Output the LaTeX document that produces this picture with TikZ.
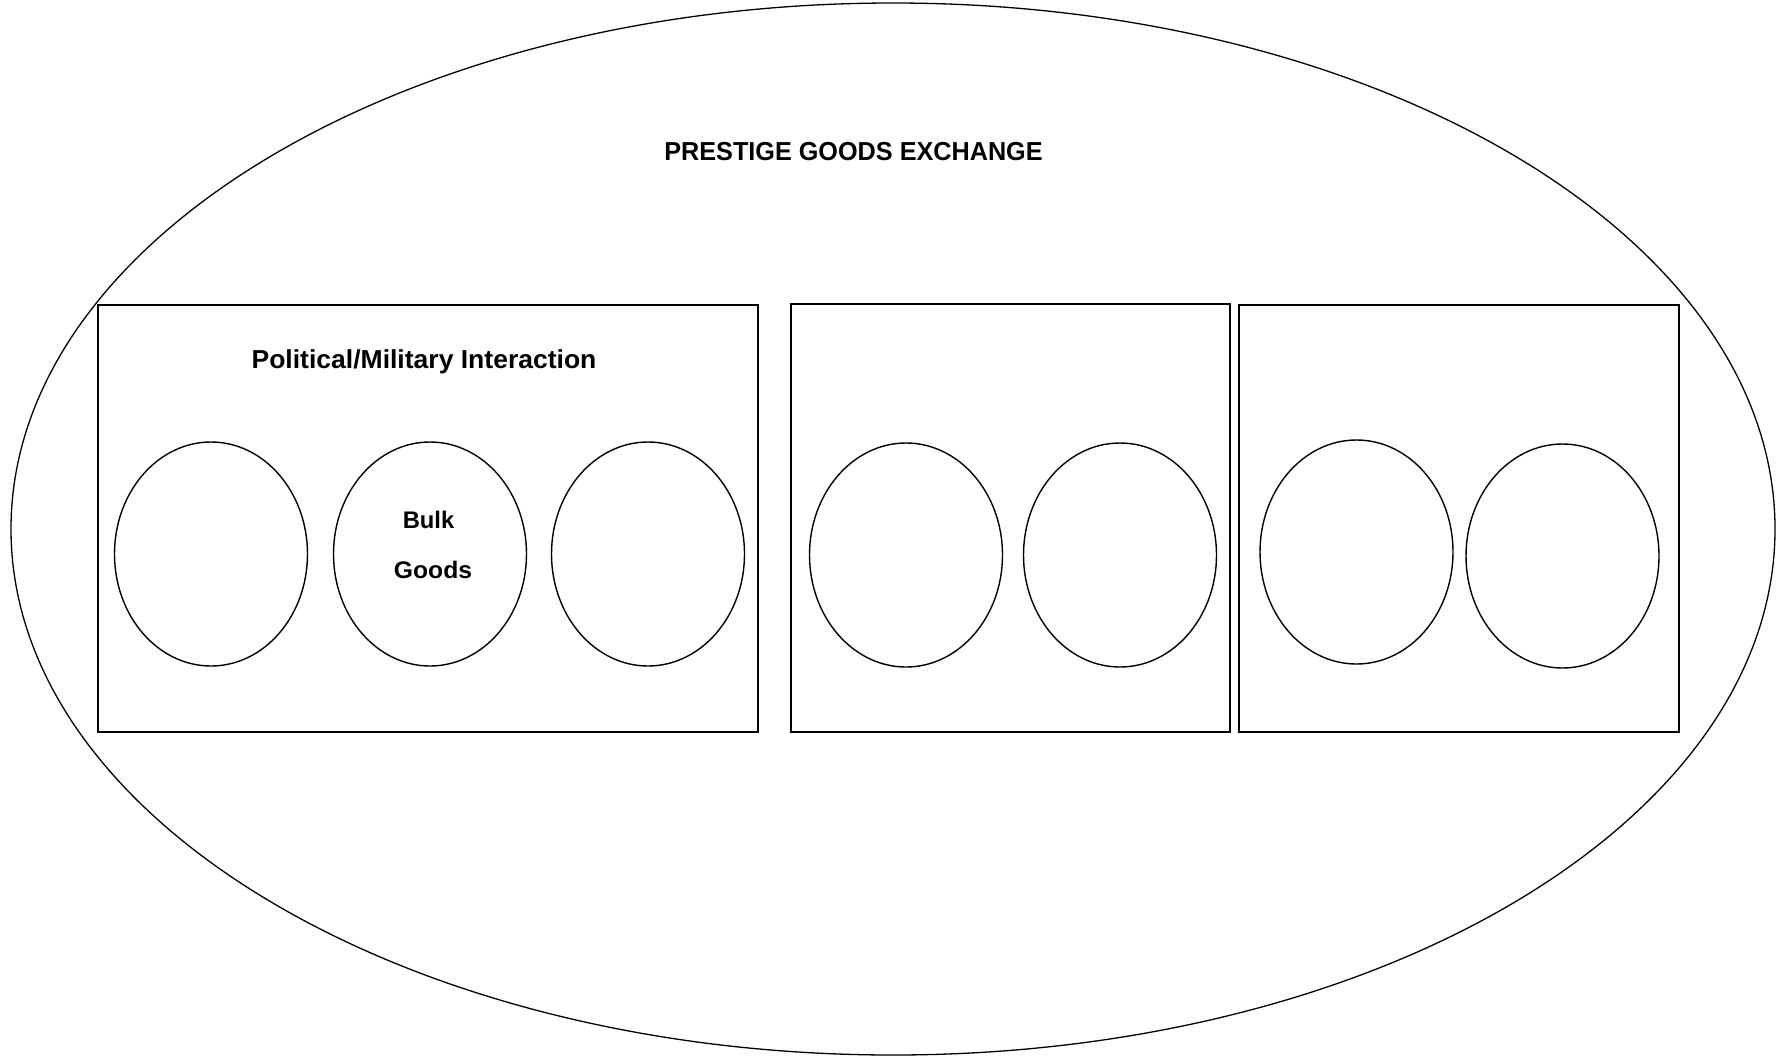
\documentclass[tikz,border=0pt]{standalone}
\usepackage{fontspec}
\setmainfont{Liberation Sans}
\usetikzlibrary{shapes.geometric}
\begin{document}
\begin{tikzpicture}[x=1pt,y=-1pt,
  oval/.style={draw=black,line width=1.4pt,ellipse,inner sep=0pt,minimum width=193pt,minimum height=224pt},
  frame/.style={draw=black,line width=1.4pt,rectangle,inner sep=0pt},
  lbl/.style={font=\bfseries\fontsize{26}{30}\selectfont,inner sep=0pt},
  small/.style={font=\bfseries\fontsize{24}{28}\selectfont,inner sep=0pt}]
\useasboundingbox (0,0) rectangle (1782,1058);
\node[draw=black,line width=1.3pt,ellipse,inner sep=0pt,minimum width=1764pt,minimum height=1052pt] (outer) at (893,529) {};
\node[frame,minimum width=660pt,minimum height=427pt] (r1) at (428,518.5) {};
\node[frame,minimum width=439pt,minimum height=428pt] (r2) at (1010.5,518) {};
\node[frame,minimum width=440pt,minimum height=427pt] (r3) at (1459,518.5) {};
\node[oval] (e1) at (211,554) {};
\node[oval] (e2) at (430,554) {};
\node[oval] (e3) at (648,554) {};
\node[oval] (e4) at (906,555) {};
\node[oval] (e5) at (1120,555) {};
\node[oval] (e6) at (1356.5,552) {};
\node[oval] (e7) at (1562.5,556) {};
\node[lbl,xscale=0.97] (t1) at (853.5,152) {PRESTIGE GOODS EXCHANGE};
\node[lbl,xscale=1.02] (t2) at (424,362) {Political/Military Interaction};
\node[small,xscale=0.99] (t3) at (428.5,520) {Bulk};
\node[small,xscale=1.03] (t4) at (433,570) {Goods};
\end{tikzpicture}
\end{document}
